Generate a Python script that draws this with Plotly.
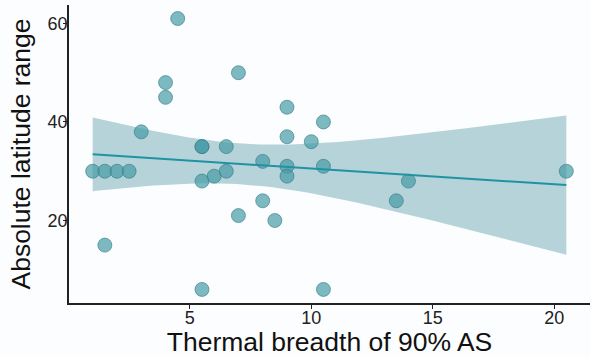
import numpy as np
import plotly.graph_objects as go

# Data
thermal_breadth = [1, 1.5, 2, 2.5, 1.5, 3, 4, 4, 4.5, 5.5, 5.5, 5.5, 5.5, 6, 6.5, 6.5,
                   7, 7, 8, 8, 8.5, 9, 9, 9, 9, 10, 10.5, 10.5, 10.5, 13.5, 14, 20.5]
latitude_range = [30, 30, 30, 30, 15, 38, 48, 45, 61, 35, 35, 28, 6, 29, 35, 30,
                  50, 21, 32, 24, 20, 43, 37, 31, 29, 36, 40, 31, 6, 24, 28, 30]
x_ticks = [5, 10, 15, 20]
y_ticks = [20, 40, 60]

x = np.array(thermal_breadth, dtype=float)
y = np.array(latitude_range, dtype=float)
n = len(x)
slope, intercept = np.polyfit(x, y, 1)
resid = y - (intercept + slope * x)
s = np.sqrt(np.sum(resid ** 2) / (n - 2))
sxx = np.sum((x - x.mean()) ** 2)
t_crit = 2.042  # t(0.975, df=30)
xs = np.linspace(x.min(), x.max(), 80)
fit = intercept + slope * xs
se = s * np.sqrt(1.0 / n + (xs - x.mean()) ** 2 / sxx)
upper = fit + t_crit * se
lower = fit - t_crit * se

fig = go.Figure()
fig.add_trace(go.Scatter(
    x=np.concatenate([xs, xs[::-1]]), y=np.concatenate([upper, lower[::-1]]),
    fill="toself", fillcolor="rgba(122,176,186,0.55)", line=dict(width=0),
    mode="lines", hoverinfo="skip", showlegend=False))
fig.add_trace(go.Scatter(
    x=x, y=y, mode="markers",
    marker=dict(size=14, color="rgba(70,155,165,0.7)",
                line=dict(color="rgba(50,120,130,0.6)", width=1)),
    showlegend=False))
fig.add_trace(go.Scatter(
    x=xs, y=fit, mode="lines", line=dict(color="#1f93a3", width=2),
    showlegend=False))

font_family = "Liberation Sans, Arial, sans-serif"
fig.update_layout(
    width=590, height=357,
    margin=dict(l=69, r=0, t=5, b=54),
    paper_bgcolor="#fcfdfe", plot_bgcolor="#fcfdfe",
    font=dict(family=font_family, color="#111111"),
    xaxis=dict(
        range=[0.025, 21.475], tickvals=x_ticks, ticktext=[str(v) for v in x_ticks],
        showgrid=False, zeroline=False, showline=True, linecolor="#222222", linewidth=1.5,
        ticks="outside", ticklen=4, tickwidth=1, tickcolor="#222222",
        tickfont=dict(size=18, color="#222222"), ticklabelstandoff=-6,
        title=dict(text="Thermal breadth of 90% AS", font=dict(size=26.5, color="#111111"), standoff=3),
        automargin=False),
    yaxis=dict(
        range=[3.25, 63.75], tickvals=y_ticks, ticktext=[str(v) for v in y_ticks],
        showgrid=False, zeroline=False, showline=True, linecolor="#222222", linewidth=1.5,
        ticks="outside", ticklen=4, tickwidth=1, tickcolor="#222222",
        tickfont=dict(size=18, color="#222222"), ticklabelstandoff=-8,
        title=dict(text="Absolute latitude range", font=dict(size=26.5, color="#111111"), standoff=9),
        automargin=False),
)
fig.write_html("out.html")
